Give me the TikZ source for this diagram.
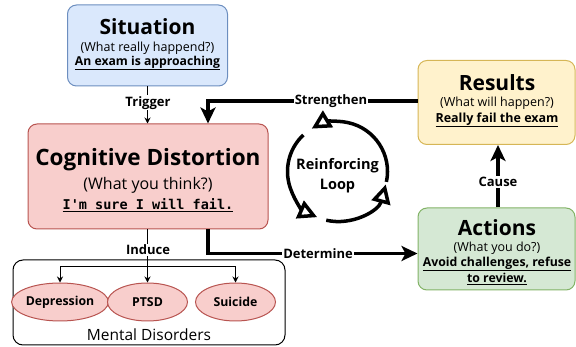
\documentclass[tikz,border=0pt]{standalone}
\usepackage{fontspec}
\setmainfont{Open Sans}
\newfontfamily\monof{DejaVu Sans Mono}
\usetikzlibrary{arrows.meta,shapes.geometric}
\definecolor{bluef}{HTML}{DAE8FC}\definecolor{bluel}{HTML}{6C8EBF}
\definecolor{redf}{HTML}{F8CECC}\definecolor{redl}{HTML}{B85450}
\definecolor{yelf}{HTML}{FFF2CC}\definecolor{yell}{HTML}{D6B656}
\definecolor{grnf}{HTML}{D5E8D4}\definecolor{grnl}{HTML}{82B366}
\newcommand{\ul}[1]{\underline{#1}}
\begin{document}
\begin{tikzpicture}[x=1pt,y=-1pt,
 box/.style={draw, rectangle, rounded corners=9pt, line width=1pt, inner sep=0pt},
 ell/.style={ellipse, draw=redl, fill=redf, line width=1pt, minimum width=80pt, minimum height=38pt, inner sep=0pt, font=\bfseries\fontsize{12.3}{14}\selectfont},
 ttl/.style={font=\bfseries\fontsize{21}{24}\selectfont, inner sep=0pt},
 sub/.style={font=\fontsize{12.5}{14}\selectfont, inner sep=0pt},
 und/.style={font=\bfseries\fontsize{12.2}{14}\selectfont, inner sep=0pt},
 lbl/.style={fill=white, font=\bfseries\fontsize{13}{15}\selectfont, inner sep=1pt},
 thinarr/.style={line width=1pt, -{Stealth[length=6pt,width=6pt]}},
 thickarr/.style={line width=3.5pt, -{Stealth[length=16pt,width=15pt,inset=4pt]}},
 looparr/.style={line width=3.5pt, -{Triangle[open, length=19pt, width=19pt, fill=white]}}
]
\useasboundingbox (0,0) rectangle (576,347);

% boxes
\node[box, draw=bluel, fill=bluef, minimum width=160pt, minimum height=81pt] (sit) at (147.5,45.5) {};
\node[box, draw=redl, fill=redf, minimum width=240pt, minimum height=105pt] (cog) at (148,176.5) {};
\node[box, draw=yell, fill=yelf, minimum width=157pt, minimum height=84pt] (res) at (496.5,102.5) {};
\node[box, draw=grnl, fill=grnf, minimum width=157pt, minimum height=82pt] (act) at (496.5,249) {};
\node[box, draw=black, fill=white, rounded corners=10pt, minimum width=272pt, minimum height=85pt] (men) at (149,302.5) {};

% texts
\node[ttl] (sitT) at (147.5,27) {Situation};
\node[sub] (sitS) at (147.5,48) {(What really happend?)};
\node[und] (sitU) at (147.5,63) {\ul{An exam is approaching}};

\node[ttl, font=\bfseries\fontsize{22.5}{26}\selectfont] (cogT) at (148,160) {Cognitive Distortion};
\node[sub, font=\fontsize{16}{18}\selectfont] (cogS) at (148,185) {(What you think?)};
\node[und, font=\monof\bfseries\fontsize{13.5}{16}\selectfont] (cogU) at (148,205) {\ul{I'm sure I will fail.}};

\node[ttl] (resT) at (497,83) {Results};
\node[sub] (resS) at (497,103) {(What will happen?)};
\node[und, font=\bfseries\fontsize{12.5}{14}\selectfont] (resU) at (497,120) {\ul{Really fail the exam}};

\node[ttl] (actT) at (497,228) {Actions};
\node[sub] (actS) at (497,248) {(What you do?)};
\node[und, font=\bfseries\fontsize{12.3}{14}\selectfont] (actU1) at (497,264) {\ul{Avoid challenges, refuse}};
\node[und, font=\bfseries\fontsize{12.3}{14}\selectfont] (actU2) at (497,279) {\ul{to review.}};

% ellipses
\node[ell] (dep) at (60,302) {Depression};
\node[ell] (ptsd) at (147.5,302) {PTSD};
\node[ell] (sui) at (235.5,302) {Suicide};
\node[font=\fontsize{15.5}{17}\selectfont, inner sep=0pt] (menT) at (149,335) {Mental Disorders};

% thin connectors
\draw[thinarr] (sit.south) -- (cog.north -| sit.south);
\node[lbl] (trig) at (148,103) {Trigger};
\coordinate (br) at (147.5,267);
\draw[line width=1pt] (cog.south -| br) -- (br);
\draw[thinarr] (br) -- (ptsd.north);
\draw[thinarr] (br) -| (dep.north);
\draw[thinarr] (br) -| (sui.north);
\node[lbl] (ind) at (148,250) {Induce};

% thick connectors
\coordinate (cogN) at (208,123.5);
\coordinate (cogS2) at (208,229);
\draw[thickarr] (res.west |- 0,101) -| (cogN);
\node[lbl] (str) at (331,101) {Strengthen};
\draw[thickarr] (cogS2) |- (act.west |- 0,253.5);
\node[lbl] (det) at (318,254) {Determine};
\draw[thickarr] (act.north -| 498,0) -- (res.south -| 498,0);
\node[lbl] (cau) at (498,182) {Cause};

% reinforcing loop
\begin{scope}[shift={(337.5,171.5)}, y=1pt]
\draw[looparr] (-12:50) arc[start angle=-12, end angle=121, radius=50];
\draw[looparr] (133:50) arc[start angle=133, end angle=246, radius=50];
\draw[looparr] (257:50) arc[start angle=257, end angle=345, radius=50];
\end{scope}
\node[font=\bfseries\fontsize{14.5}{20}\selectfont, align=center, inner sep=0pt] (loop) at (337.5,176) {Reinforcing\\Loop};
\end{tikzpicture}
\end{document}
